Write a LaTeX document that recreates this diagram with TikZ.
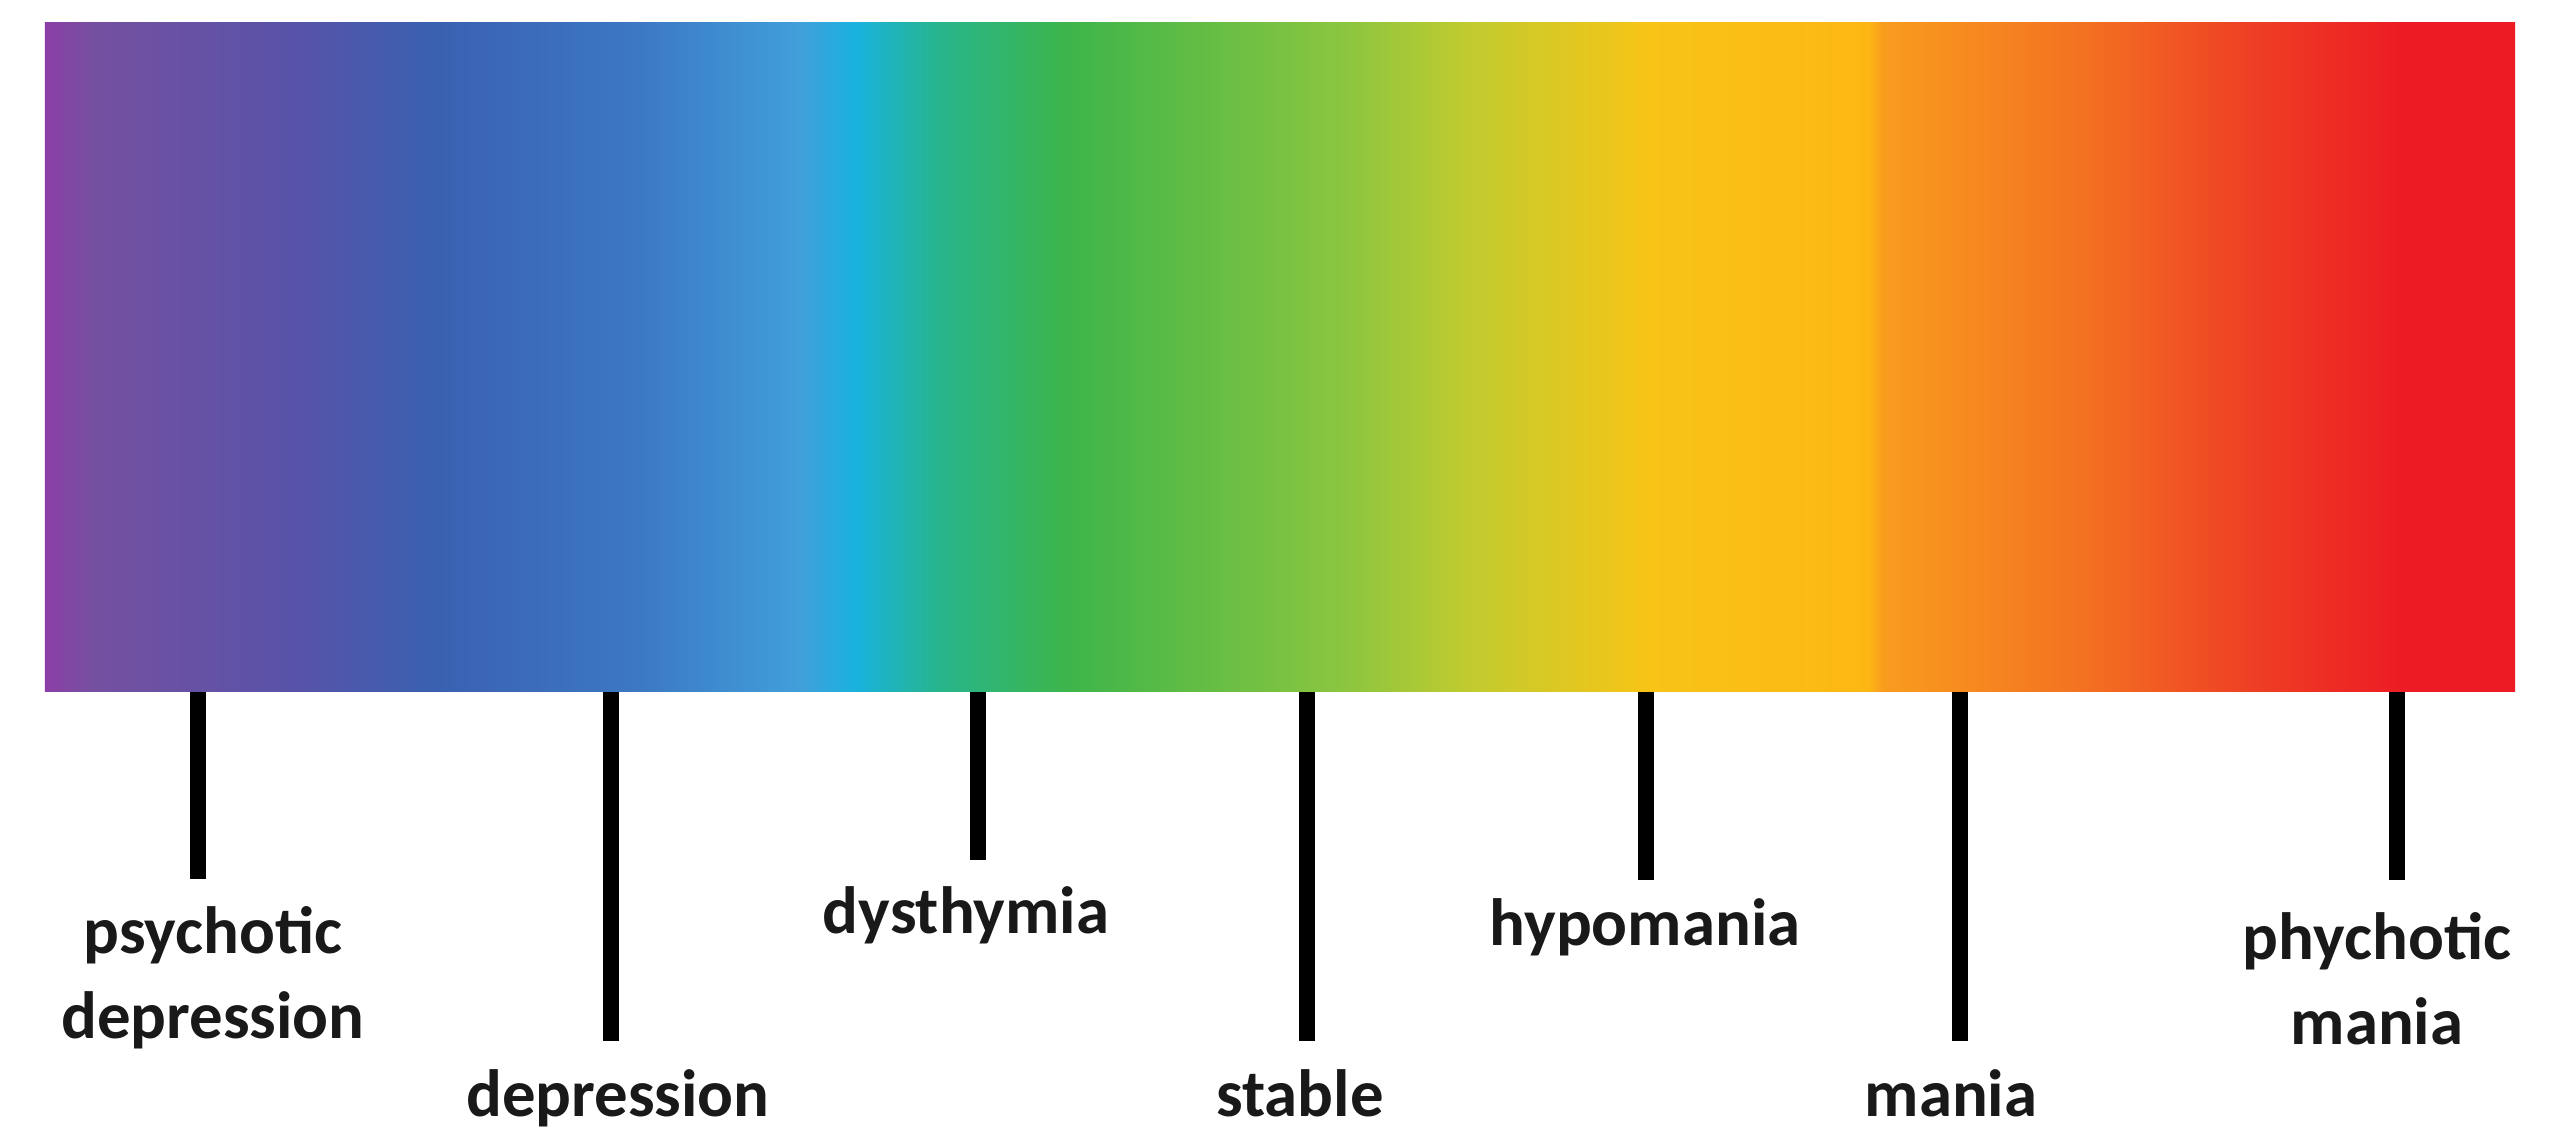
\documentclass[tikz,border=0pt]{standalone}
\usepackage{fontspec}
\setmainfont{Carlito}
\usepackage{xcolor}
\usepackage{tikz}
\usetikzlibrary{positioning}
\definecolor{roxo}{HTML}{8B3FA6}
\definecolor{roxoB}{HTML}{7550A0}
\definecolor{indigo}{HTML}{5753A8}
\definecolor{azul}{HTML}{3A60B0}
\definecolor{azulM}{HTML}{3C78C4}
\definecolor{azulC}{HTML}{419FDA}
\definecolor{ciano}{HTML}{19B2DF}
\definecolor{verdeA}{HTML}{27B58C}
\definecolor{verde}{HTML}{3DB54A}
\definecolor{verdeC}{HTML}{8DC63F}
\definecolor{limao}{HTML}{C4CB2E}
\definecolor{amarelo}{HTML}{F8C416}
\definecolor{ouro}{HTML}{FDB714}
\definecolor{laranjaA}{HTML}{F99C1E}
\definecolor{laranja}{HTML}{F37221}
\definecolor{vermelhoL}{HTML}{EE4024}
\definecolor{vermelho}{HTML}{ED1C24}
\pgfdeclarehorizontalshading{espectro}{100bp}{
    color(0bp)=(roxo); color(25bp)=(roxo); color(26bp)=(roxoB);
    color(30.1bp)=(indigo); color(32.8bp)=(azul); color(37bp)=(azulM);
    color(40.3bp)=(azulC); color(41.4bp)=(ciano); color(43.1bp)=(verdeA);
    color(45.7bp)=(verde); color(51.4bp)=(verdeC); color(54bp)=(limao);
    color(57.5bp)=(amarelo); color(61.9bp)=(ouro); color(62.2bp)=(laranjaA);
    color(66.2bp)=(laranja); color(69.6bp)=(vermelhoL); color(72.7bp)=(vermelho);
    color(75bp)=(vermelho); color(100bp)=(vermelho)}
\tikzset{
    barra/.style={
        rectangle,
        shading=espectro,
        inner sep=0pt,
        minimum width=24.69cm,
        minimum height=6.69cm
    },
    marca/.style={line width=4.3pt, black},
    rotulo/.style={
        align=center,
        inner sep=0pt,
        anchor=base,
        text=black!90,
        font=\fontsize{19}{23.9}\selectfont\bfseries
    }
}

\begin{document}
\begin{tikzpicture}[x=0.01cm, y=-0.01cm]
        \useasboundingbox[fill=white] (0,0) rectangle (2566,1136);

        \node[barra] (barra) at (1280,357) {};

        % extremidades das marcas
        \coordinate (m1) at (198,879);
        \coordinate (m2) at (611,1041);
        \coordinate (m3) at (978,860);
        \coordinate (m4) at (1307,1041);
        \coordinate (m5) at (1646,880);
        \coordinate (m6) at (1960,1041);
        \coordinate (m7) at (2397,880);

        \draw[marca] (barra.south -| m1) -- (m1);
        \draw[marca] (barra.south -| m2) -- (m2);
        \draw[marca] (barra.south -| m3) -- (m3);
        \draw[marca] (barra.south -| m4) -- (m4);
        \draw[marca] (barra.south -| m5) -- (m5);
        \draw[marca] (barra.south -| m6) -- (m6);
        \draw[marca] (barra.south -| m7) -- (m7);

        % rótulos (base = última linha)
        \node[rotulo] (psicDep) at (213,1038) {psychotic\\depression};
        \node[rotulo] (dep) at (618,1116) {depression};
        \node[rotulo] (dist) at (966,933) {dysthymia};
        \node[rotulo] (estavel) at (1300,1116) {stable};
        \node[rotulo] (hipo) at (1645,945) {hypomania};
        \node[rotulo] (mania) at (1951,1116) {mania};
        \node[rotulo] (psicMania) at (2377,1044) {phychotic\\mania};
    \end{tikzpicture}
\end{document}
